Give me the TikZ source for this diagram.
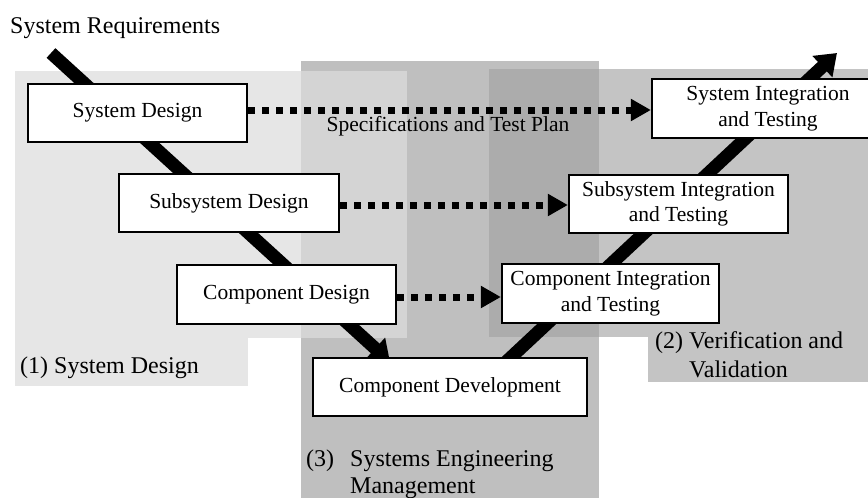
\documentclass[tikz,border=0pt]{standalone}
\usepackage{fontspec}
\setmainfont{Liberation Serif}
\usetikzlibrary{arrows.meta}
\definecolor{zoneA}{HTML}{E6E6E6}
\definecolor{zoneAC}{HTML}{D4D4D4}
\definecolor{zoneC}{HTML}{BFBFBF}
\definecolor{zoneCB}{HTML}{ACACAC}
\definecolor{zoneB}{HTML}{C4C4C4}
\pgfdeclarelayer{zones}
\pgfdeclarelayer{links}
\pgfsetlayers{zones,links,main}
\begin{document}
\begin{tikzpicture}[x=1pt,y=-1pt,
  stage/.style={draw=black, line width=2.2pt, fill=white, inner sep=0pt,
    align=center, font=\fontsize{21.5}{25.5}\selectfont},
  vbar/.style={line width=13pt, -{Triangle[length=20pt,width=28pt]}},
  trace/.style={line width=7pt, dash pattern=on 7pt off 7pt,
    -{Triangle[length=20pt,width=21pt]}},
  lbl/.style={anchor=base west, inner sep=0pt, font=\fontsize{24}{28}\selectfont},
  note/.style={anchor=base, inner sep=0pt, font=\fontsize{21.5}{25.5}\selectfont}
]
\path[use as bounding box] (0,0) rectangle (868,498);
\clip (0,0) rectangle (868,498);

% shaded phase zones
\begin{pgfonlayer}{zones}
  \fill[zoneC] (301,61) rectangle (599,498);
  \fill[zoneB] (489,69) rectangle (868,337);
  \fill[zoneB] (648,337) rectangle (868,382);
  \fill[zoneA] (15,71) rectangle (407,338);
  \fill[zoneA] (15,338) rectangle (248,386);
  \fill[zoneAC] (301,71) rectangle (407,338);
  \fill[zoneCB] (489,69) rectangle (599,337);
\end{pgfonlayer}

% stages of the V
\node[stage, minimum width=219pt, minimum height=58pt] (sd) at (137.5,113) {System Design};
\node[stage, minimum width=220pt, minimum height=58pt] (ssd) at (229,203) {Subsystem Design};
\node[stage, minimum width=219pt, minimum height=59pt] (cd) at (286.5,294.5) {Component Design};
\node[stage, minimum width=274pt, minimum height=58pt] (cdev) at (450,387) {Component Development};
\node[stage, minimum width=217pt, minimum height=59pt] (cit) at (610.5,293.5) {Component Integration\\and Testing};
\node[stage, minimum width=219pt, minimum height=58pt] (ssit) at (678.5,204) {Subsystem Integration\\and Testing};
\node[stage, minimum width=232pt, minimum height=59pt] (sit) at (768,108.5) {System Integration\\and Testing};

\coordinate (vstart) at (51,53);
\coordinate (vtop) at (837,53);

% V arms and test-plan links
\begin{pgfonlayer}{links}
  \draw[vbar] (vstart) -- ([shift={(-60pt,-5pt)}]cdev.north);
  \draw[vbar] ([shift={(55pt,-6pt)}]cdev.north) -- (vtop);
  \draw[trace] ([yshift=3pt]sd.east) -- ([yshift=3pt]sd.east -| sit.west);
  \draw[trace] ([yshift=-2pt]ssd.east) -- ([yshift=-2pt]ssd.east -| ssit.west);
  \draw[trace] ([yshift=-2.5pt]cd.east) -- ([yshift=-2.5pt]cd.east -| cit.west);
\end{pgfonlayer}

% labels
\node[lbl] (req) at (10,33) {System Requirements};
\node[note] (spec) at (448,131) {Specifications and Test Plan};
\node[lbl] (z1) at (20,373) {(1) System Design};
\node[lbl] (z2a) at (655,348) {(2) Verification and};
\node[lbl] (z2b) at (689,377) {Validation};
\node[lbl] (z3a) at (306,466) {(3)};
\node[lbl] (z3b) at (350,466) {Systems Engineering};
\node[lbl] (z3c) at (350,493) {Management};
\end{tikzpicture}
\end{document}
